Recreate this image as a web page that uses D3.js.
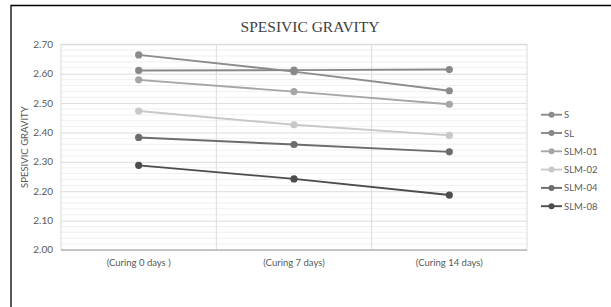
<!DOCTYPE html>
<html>
<head>
<meta charset="utf-8">
<script src="https://cdn.jsdelivr.net/npm/d3@7"></script>
<style>
  body { margin: 0; background: #fff; }
  svg { display: block; }
</style>
</head>
<body>
<div id="chart-div"></div>
<script>
// data
const categories = ['(Curing 0 days )', '(Curing 7 days)', '(Curing 14 days)'];
const seriesNames = ['S', 'SL', 'SLM-01', 'SLM-02', 'SLM-04', 'SLM-08'];
const sValues = [2.664, 2.607, 2.542];
const slValues = [2.611, 2.612, 2.614];
const slm01Values = [2.579, 2.539, 2.496];
const slm02Values = [2.473, 2.426, 2.390];
const slm04Values = [2.383, 2.359, 2.334];
const slm08Values = [2.288, 2.242, 2.187];
const yTicks = [2.00, 2.10, 2.20, 2.30, 2.40, 2.50, 2.60, 2.70];
const seriesColors = ['#8c8c8c', '#888888', '#a6a6a6', '#c8c8c8', '#6c6c6c', '#4c4c4c'];

const allValues = [sValues, slValues, slm01Values, slm02Values, slm04Values, slm08Values];
const series = seriesNames.map((name, i) => ({ name: name, color: seriesColors[i], values: allValues[i] }));

const width = 611;
const height = 307;
const sans = 'Lato, "Liberation Sans", sans-serif';

const svg = d3.select('#chart-div').append('svg')
    .attr('width', width)
    .attr('height', height);

// outer frame, only top and left edges are visible in the picture
svg.append('path')
    .attr('d', `M11,${height}V5.5H${width}`)
    .attr('fill', 'none')
    .attr('stroke', '#000')
    .attr('stroke-width', 1.3);

const margin = { top: 44.3, left: 61, right: 84 };
const innerWidth = width - margin.left - margin.right;
const innerHeight = 250 - margin.top;

const xScale = d3.scaleBand().domain(categories).range([0, innerWidth]).padding(0);
const yScale = d3.scaleLinear().domain([2.0, 2.7]).range([innerHeight, 0]);

const g = svg.append('g')
    .attr('transform', `translate(${margin.left},${margin.top})`);

// minor gridlines
const minor = d3.range(2.0, 2.7001, 0.02).filter(v => Math.abs(Math.round(v * 10) - v * 10) > 0.01);
g.selectAll('.minor').data(minor).enter().append('line')
    .attr('x1', 0).attr('x2', innerWidth)
    .attr('y1', d => yScale(d)).attr('y2', d => yScale(d))
    .attr('stroke', '#f0f0f0').attr('stroke-width', 1);

// major gridlines
const yAxisG = g.append('g').call(d3.axisLeft(yScale)
    .tickValues(yTicks)
    .tickSize(-innerWidth)
    .tickFormat(''));
yAxisG.select('.domain').remove();
yAxisG.selectAll('.tick line').attr('stroke', '#dcdcdc');

// y tick labels
g.selectAll('.ylabel').data(yTicks).enter().append('text')
    .attr('x', -8)
    .attr('y', d => yScale(d) + 3.5)
    .attr('text-anchor', 'end')
    .attr('fill', '#595959')
    .attr('font-family', sans)
    .attr('font-size', 10)
    .text(d3.format('.2f'));

// vertical gridlines between categories
g.selectAll('.vgrid').data(categories.slice(1)).enter().append('line')
    .attr('x1', d => xScale(d)).attr('x2', d => xScale(d))
    .attr('y1', 0).attr('y2', innerHeight)
    .attr('stroke', '#dcdcdc');

// plot border
g.append('rect')
    .attr('width', innerWidth).attr('height', innerHeight)
    .attr('fill', 'none').attr('stroke', '#d9d9d9');

// x axis line
g.append('line')
    .attr('x1', 0).attr('x2', innerWidth)
    .attr('y1', innerHeight).attr('y2', innerHeight)
    .attr('stroke', '#a6a6a6');

const xPos = c => xScale(c) + xScale.bandwidth() / 2;

// x labels
g.selectAll('.xlabel').data(categories).enter().append('text')
    .attr('x', d => xPos(d))
    .attr('y', innerHeight + 16)
    .attr('text-anchor', 'middle')
    .attr('fill', '#595959')
    .attr('font-family', sans)
    .attr('font-size', 9.5)
    .text(d => d);

// y axis label
g.append('text')
    .attr('transform', 'rotate(-90)')
    .attr('x', -innerHeight / 2)
    .attr('y', -33)
    .attr('text-anchor', 'middle')
    .attr('fill', '#595959')
    .attr('font-family', sans)
    .attr('font-size', 9.5)
    .text('SPESIVIC GRAVITY');

// title
svg.append('text')
    .attr('x', 310)
    .attr('y', 32)
    .attr('text-anchor', 'middle')
    .attr('fill', '#404040')
    .attr('font-family', '"Liberation Serif", serif')
    .attr('font-size', 15.5)
    .text('SPESIVIC GRAVITY');

// lines and markers
const line = d3.line()
    .x((d, i) => xPos(categories[i]))
    .y(d => yScale(d));

const seriesG = g.selectAll('.series').data(series).enter().append('g');
seriesG.append('path')
    .attr('d', d => line(d.values))
    .attr('fill', 'none')
    .attr('stroke', d => d.color)
    .attr('stroke-width', 1.9);
seriesG.each(function(s) {
    d3.select(this).selectAll('circle').data(s.values).enter().append('circle')
        .attr('cx', (d, i) => xPos(categories[i]))
        .attr('cy', d => yScale(d))
        .attr('r', 3.6)
        .attr('fill', s.color);
});

// legend
const legend = svg.append('g').attr('transform', 'translate(541,114.7)');
const item = legend.selectAll('g').data(series).enter().append('g')
    .attr('transform', (d, i) => `translate(0,${i * 18.3})`);
item.append('line')
    .attr('x1', 0).attr('x2', 21)
    .attr('stroke', d => d.color).attr('stroke-width', 1.9);
item.append('circle')
    .attr('cx', 10.5).attr('r', 3)
    .attr('fill', d => d.color);
item.append('text')
    .attr('x', 23).attr('y', 3.5)
    .attr('fill', '#595959')
    .attr('font-family', sans)
    .attr('font-size', 9.5)
    .text(d => d.name);
</script>
</body>
</html>
